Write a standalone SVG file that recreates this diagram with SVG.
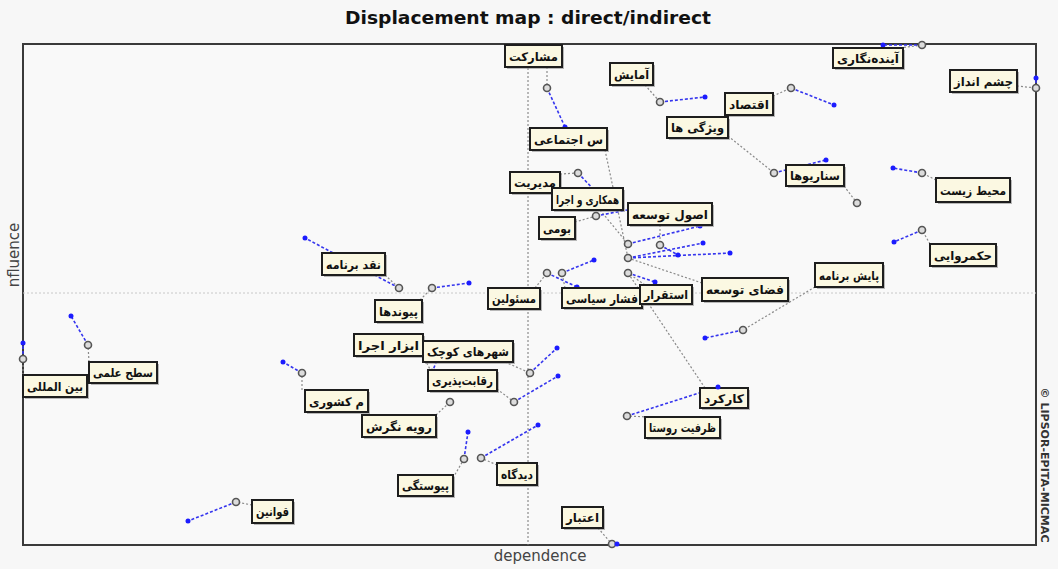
<svg xmlns="http://www.w3.org/2000/svg" width="1058" height="569" viewBox="0 0 1058 569">
<style>
.bg{fill:#f7f7f7}
.frame{fill:#f9f9f9;stroke:#3a3a3a;stroke-width:2}
.axv{stroke:#777;stroke-width:1;stroke-dasharray:2 2}
.axh{stroke:#c8c8c8;stroke-width:1;stroke-dasharray:2 2}
.title{font-family:"DejaVu Sans","Liberation Sans",sans-serif;font-weight:bold;font-size:17px;fill:#111;text-anchor:middle}
.axl{font-family:"DejaVu Sans","Liberation Sans",sans-serif;font-size:15px;fill:#444;text-anchor:middle}
.copy{font-family:"DejaVu Sans","Liberation Sans",sans-serif;font-weight:bold;font-size:10px;fill:#333;text-anchor:middle}
.lead{stroke:#8a8a8a;stroke-width:1.2;stroke-dasharray:2 2;fill:none}
.ind{stroke:#3535ee;stroke-width:1.6;stroke-dasharray:3 2;fill:none}
.pt{fill:#dcdcdc;stroke:#555;stroke-width:1.6}
.bd{fill:#1c1cff}
.sh{fill:#8c8c8c;opacity:0.6}
.box{fill:#fbf8e2;stroke:#1e1e1e;stroke-width:2}
.lbl{font-family:"DejaVu Sans",sans-serif;font-weight:bold;font-size:12px;fill:#111;text-anchor:middle}
</style>
<rect class="bg" x="0" y="0" width="1058" height="569"/>
<text class="title" x="528" y="24" textLength="366" lengthAdjust="spacingAndGlyphs">Displacement map :  direct/indirect</text>
<rect class="frame" x="23" y="44" width="1013" height="501"/>
<line class="axv" x1="528" y1="44" x2="528" y2="545"/>
<line class="axh" x1="23" y1="293" x2="1036" y2="293"/>
<text class="axl" x="540" y="561">dependence</text>
<text class="axl" transform="translate(19,255) rotate(-90)">nfluence</text>
<text class="copy" transform="translate(1041,465) rotate(90)" textLength="155" lengthAdjust="spacingAndGlyphs">© LIPSOR-EPITA-MICMAC</text>

<g id="connectors">
<line class="lead" x1="547" y1="67" x2="547" y2="88"/><line class="ind" x1="547" y1="88" x2="565" y2="127"/>
<line class="lead" x1="645" y1="85" x2="660" y2="102"/><line class="ind" x1="660" y1="102" x2="705" y2="97"/>
<line class="lead" x1="900" y1="48" x2="922" y2="45"/><line class="ind" x1="922" y1="45" x2="883" y2="45"/>
<line class="lead" x1="1017" y1="86" x2="1036" y2="88"/><line class="ind" x1="1036" y1="88" x2="1036" y2="78"/>
<line class="lead" x1="773" y1="96" x2="791" y2="88"/><line class="ind" x1="791" y1="88" x2="834" y2="105"/>
<line class="lead" x1="728" y1="136" x2="774" y2="173"/><line class="ind" x1="774" y1="173" x2="826" y2="160"/>
<line class="lead" x1="605" y1="150" x2="628" y2="258"/><line class="ind" x1="628" y1="258" x2="703" y2="243"/>
<line class="lead" x1="844" y1="186" x2="857" y2="203"/>
<line class="lead" x1="936" y1="180" x2="922" y2="173"/><line class="ind" x1="922" y1="173" x2="893" y2="168"/>
<line class="lead" x1="930" y1="244" x2="922" y2="230"/><line class="ind" x1="922" y1="230" x2="894" y2="242"/>
<line class="lead" x1="560" y1="174" x2="578" y2="173"/><line class="ind" x1="578" y1="173" x2="596" y2="192"/>
<line class="lead" x1="600" y1="210" x2="628" y2="244"/><line class="ind" x1="628" y1="244" x2="700" y2="226"/>
<line class="lead" x1="660" y1="225" x2="660" y2="245"/><line class="ind" x1="660" y1="245" x2="678" y2="255"/>
<line class="lead" x1="575" y1="222" x2="596" y2="216"/><line class="ind" x1="596" y1="216" x2="627" y2="210"/>
<line class="lead" x1="385" y1="275" x2="399" y2="288"/><line class="ind" x1="399" y1="288" x2="305" y2="238"/>
<line class="lead" x1="420" y1="300" x2="432" y2="288"/><line class="ind" x1="432" y1="288" x2="469" y2="283"/>
<line class="lead" x1="535" y1="288" x2="547" y2="273"/><line class="ind" x1="547" y1="273" x2="577" y2="287"/>
<line class="lead" x1="565" y1="288" x2="562" y2="273"/><line class="ind" x1="562" y1="273" x2="594" y2="260"/>
<line class="lead" x1="645" y1="285" x2="628" y2="273"/><line class="ind" x1="628" y1="273" x2="655" y2="282"/>
<line class="lead" x1="702" y1="283" x2="628" y2="258"/><line class="ind" x1="628" y1="258" x2="730" y2="253"/>
<line class="lead" x1="815" y1="287" x2="743" y2="330"/><line class="ind" x1="743" y1="330" x2="705" y2="338"/>
<line class="lead" x1="423" y1="356" x2="432" y2="373"/><line class="ind" x1="432" y1="373" x2="440" y2="352"/>
<line class="lead" x1="505" y1="362" x2="530" y2="373"/><line class="ind" x1="530" y1="373" x2="557" y2="348"/>
<line class="lead" x1="497" y1="389" x2="514" y2="402"/><line class="ind" x1="514" y1="402" x2="558" y2="376"/>
<line class="lead" x1="302" y1="390" x2="302" y2="373"/><line class="ind" x1="302" y1="373" x2="283" y2="362"/>
<line class="lead" x1="436" y1="415" x2="450" y2="402"/>
<line class="lead" x1="23" y1="375" x2="23" y2="359"/><line class="ind" x1="23" y1="359" x2="23" y2="343"/>
<line class="lead" x1="89" y1="362" x2="88" y2="345"/><line class="ind" x1="88" y1="345" x2="71" y2="316"/>
<line class="lead" x1="453" y1="478" x2="464" y2="459"/><line class="ind" x1="464" y1="459" x2="468" y2="432"/>
<line class="lead" x1="497" y1="465" x2="481" y2="458"/><line class="ind" x1="481" y1="458" x2="538" y2="425"/>
<line class="lead" x1="705" y1="388" x2="628" y2="273"/>
<line class="lead" x1="648" y1="417" x2="627" y2="416"/><line class="ind" x1="627" y1="416" x2="718" y2="387"/>
<line class="lead" x1="598" y1="528" x2="612" y2="544"/><line class="ind" x1="612" y1="544" x2="617" y2="544"/>
<line class="lead" x1="252" y1="505" x2="236" y2="502"/><line class="ind" x1="236" y1="502" x2="188" y2="521"/>
</g>

<g id="n1"><circle class="pt" cx="547" cy="88" r="3.5"/><circle class="bd" cx="565" cy="127" r="2.5"/><rect class="sh" x="507" y="47" width="57" height="22"/><rect class="box" x="505" y="45" width="57" height="22"/><text class="lbl" x="533.5" y="60.5" textLength="49" lengthAdjust="spacingAndGlyphs">مشارکت</text></g>
<g id="n2"><circle class="pt" cx="660" cy="102" r="3.5"/><circle class="bd" cx="705" cy="97" r="2.5"/><rect class="sh" x="612" y="65" width="43" height="22"/><rect class="box" x="610" y="63" width="43" height="22"/><text class="lbl" x="631.5" y="78.5" textLength="35" lengthAdjust="spacingAndGlyphs">آمایش</text></g>
<g id="n3"><circle class="pt" cx="922" cy="45" r="3.5"/><circle class="bd" cx="883" cy="45" r="2.5"/><rect class="sh" x="835" y="50" width="70" height="20"/><rect class="box" x="833" y="48" width="70" height="20"/><text class="lbl" x="868" y="62.5" textLength="62" lengthAdjust="spacingAndGlyphs">آینده‌نگاری</text></g>
<g id="n4"><circle class="pt" cx="1036" cy="88" r="3.5"/><circle class="bd" cx="1036" cy="78" r="2.5"/><rect class="sh" x="952" y="72" width="67" height="22"/><rect class="box" x="950" y="70" width="67" height="22"/><text class="lbl" x="983.5" y="85.5" textLength="59" lengthAdjust="spacingAndGlyphs">چشم انداز</text></g>
<g id="n5"><circle class="pt" cx="791" cy="88" r="3.5"/><circle class="bd" cx="834" cy="105" r="2.5"/><rect class="sh" x="727" y="95" width="48" height="22"/><rect class="box" x="725" y="93" width="48" height="22"/><text class="lbl" x="749" y="108.5" textLength="40" lengthAdjust="spacingAndGlyphs">اقتصاد</text></g>
<g id="n6"><circle class="pt" cx="774" cy="173" r="3.5"/><circle class="bd" cx="826" cy="160" r="2.5"/><rect class="sh" x="669" y="119" width="61" height="21"/><rect class="box" x="667" y="117" width="61" height="21"/><text class="lbl" x="697.5" y="132" textLength="53" lengthAdjust="spacingAndGlyphs">ویژگی ها</text></g>
<g id="n7"><circle class="pt" cx="628" cy="258" r="3.5"/><circle class="bd" cx="703" cy="243" r="2.5"/><rect class="sh" x="532" y="130" width="77" height="22"/><rect class="box" x="530" y="128" width="77" height="22"/><text class="lbl" x="568.5" y="143.5" textLength="69" lengthAdjust="spacingAndGlyphs">س اجتماعی</text></g>
<g id="n8"><circle class="pt" cx="857" cy="203" r="3.5"/><rect class="sh" x="788" y="167" width="58" height="21"/><rect class="box" x="786" y="165" width="58" height="21"/><text class="lbl" x="815" y="180" textLength="50" lengthAdjust="spacingAndGlyphs">سناریوها</text></g>
<g id="n9"><circle class="pt" cx="922" cy="173" r="3.5"/><circle class="bd" cx="893" cy="168" r="2.5"/><rect class="sh" x="938" y="180" width="74" height="24"/><rect class="box" x="936" y="178" width="74" height="24"/><text class="lbl" x="973" y="194.5" textLength="66" lengthAdjust="spacingAndGlyphs">محیط زیست</text></g>
<g id="n10"><circle class="pt" cx="922" cy="230" r="3.5"/><circle class="bd" cx="894" cy="242" r="2.5"/><rect class="sh" x="932" y="246" width="66" height="22"/><rect class="box" x="930" y="244" width="66" height="22"/><text class="lbl" x="963" y="259.5" textLength="58" lengthAdjust="spacingAndGlyphs">حکمروایی</text></g>
<g id="n11"><circle class="pt" cx="578" cy="173" r="3.5"/><rect class="sh" x="512" y="174" width="50" height="21"/><rect class="box" x="510" y="172" width="50" height="21"/><text class="lbl" x="535" y="187" textLength="42" lengthAdjust="spacingAndGlyphs">مدیریت</text></g>
<g id="n12"><circle class="pt" cx="628" cy="244" r="3.5"/><circle class="bd" cx="700" cy="226" r="2.5"/><rect class="sh" x="554" y="190" width="71" height="22"/><rect class="box" x="552" y="188" width="71" height="22"/><text class="lbl" x="587.5" y="203.5" textLength="63" lengthAdjust="spacingAndGlyphs">همکاری و اجرا</text></g>
<g id="n13"><circle class="pt" cx="660" cy="245" r="3.5"/><circle class="bd" cx="678" cy="255" r="2.5"/><rect class="sh" x="630" y="205" width="84" height="22"/><rect class="box" x="628" y="203" width="84" height="22"/><text class="lbl" x="670" y="218.5" textLength="76" lengthAdjust="spacingAndGlyphs">اصول توسعه</text></g>
<g id="n14"><circle class="pt" cx="596" cy="216" r="3.5"/><rect class="sh" x="541" y="219" width="36" height="22"/><rect class="box" x="539" y="217" width="36" height="22"/><text class="lbl" x="557" y="232.5" textLength="28" lengthAdjust="spacingAndGlyphs">بومی</text></g>
<g id="n15"><circle class="pt" cx="399" cy="288" r="3.5"/><circle class="bd" cx="305" cy="238" r="2.5"/><rect class="sh" x="324" y="255" width="63" height="22"/><rect class="box" x="322" y="253" width="63" height="22"/><text class="lbl" x="353.5" y="268.5" textLength="55" lengthAdjust="spacingAndGlyphs">نقد برنامه</text></g>
<g id="n16"><circle class="pt" cx="432" cy="288" r="3.5"/><circle class="bd" cx="469" cy="283" r="2.5"/><rect class="sh" x="377" y="302" width="47" height="22"/><rect class="box" x="375" y="300" width="47" height="22"/><text class="lbl" x="398.5" y="315.5" textLength="39" lengthAdjust="spacingAndGlyphs">پیوندها</text></g>
<g id="n17"><circle class="pt" cx="547" cy="273" r="3.5"/><circle class="bd" cx="577" cy="287" r="2.5"/><rect class="sh" x="490" y="290" width="52" height="21"/><rect class="box" x="488" y="288" width="52" height="21"/><text class="lbl" x="514" y="303" textLength="44" lengthAdjust="spacingAndGlyphs">مسئولین</text></g>
<g id="n18"><circle class="pt" cx="562" cy="273" r="3.5"/><circle class="bd" cx="594" cy="260" r="2.5"/><rect class="sh" x="564" y="290" width="80" height="20"/><rect class="box" x="562" y="288" width="80" height="20"/><text class="lbl" x="602" y="302.5" textLength="72" lengthAdjust="spacingAndGlyphs">فشار سیاسی</text></g>
<g id="n19"><circle class="pt" cx="628" cy="273" r="3.5"/><circle class="bd" cx="655" cy="282" r="2.5"/><rect class="sh" x="642" y="287" width="52" height="19"/><rect class="box" x="640" y="285" width="52" height="19"/><text class="lbl" x="666" y="299" textLength="44" lengthAdjust="spacingAndGlyphs">استقرار</text></g>
<g id="n20"><circle class="bd" cx="730" cy="253" r="2.5"/><rect class="sh" x="704" y="280" width="86" height="23"/><rect class="box" x="702" y="278" width="86" height="23"/><text class="lbl" x="745" y="294" textLength="78" lengthAdjust="spacingAndGlyphs">فضای توسعه</text></g>
<g id="n21"><circle class="pt" cx="743" cy="330" r="3.5"/><circle class="bd" cx="705" cy="338" r="2.5"/><rect class="sh" x="817" y="265" width="68" height="24"/><rect class="box" x="815" y="263" width="68" height="24"/><text class="lbl" x="849" y="279.5" textLength="60" lengthAdjust="spacingAndGlyphs">پایش برنامه</text></g>
<g id="n22"><circle class="pt" cx="432" cy="373" r="3.5"/><rect class="sh" x="356" y="336" width="69" height="22"/><rect class="box" x="354" y="334" width="69" height="22"/><text class="lbl" x="388.5" y="349.5" textLength="61" lengthAdjust="spacingAndGlyphs">ابزار اجرا</text></g>
<g id="n23"><circle class="pt" cx="530" cy="373" r="3.5"/><circle class="bd" cx="557" cy="348" r="2.5"/><rect class="sh" x="425" y="343" width="90" height="21"/><rect class="box" x="423" y="341" width="90" height="21"/><text class="lbl" x="468" y="356" textLength="82" lengthAdjust="spacingAndGlyphs">شهرهای کوچک</text></g>
<g id="n24"><circle class="pt" cx="514" cy="402" r="3.5"/><circle class="bd" cx="558" cy="376" r="2.5"/><rect class="sh" x="430" y="372" width="69" height="21"/><rect class="box" x="428" y="370" width="69" height="21"/><text class="lbl" x="462.5" y="385" textLength="61" lengthAdjust="spacingAndGlyphs">رقابت‌پذیری</text></g>
<g id="n25"><circle class="pt" cx="302" cy="373" r="3.5"/><circle class="bd" cx="283" cy="362" r="2.5"/><rect class="sh" x="307" y="392" width="63" height="22"/><rect class="box" x="305" y="390" width="63" height="22"/><text class="lbl" x="336.5" y="405.5" textLength="55" lengthAdjust="spacingAndGlyphs">م کشوری</text></g>
<g id="n26"><circle class="pt" cx="450" cy="402" r="3.5"/><rect class="sh" x="364" y="417" width="74" height="22"/><rect class="box" x="362" y="415" width="74" height="22"/><text class="lbl" x="399" y="430.5" textLength="66" lengthAdjust="spacingAndGlyphs">رویه نگرش</text></g>
<g id="n27"><circle class="pt" cx="23" cy="359" r="3.5"/><circle class="bd" cx="23" cy="343" r="2.5"/><rect class="sh" x="25" y="377" width="64" height="22"/><rect class="box" x="23" y="375" width="64" height="22"/><text class="lbl" x="55" y="390.5" textLength="56" lengthAdjust="spacingAndGlyphs">بین المللی</text></g>
<g id="n28"><circle class="pt" cx="88" cy="345" r="3.5"/><circle class="bd" cx="71" cy="316" r="2.5"/><rect class="sh" x="91" y="364" width="68" height="21"/><rect class="box" x="89" y="362" width="68" height="21"/><text class="lbl" x="123" y="377" textLength="60" lengthAdjust="spacingAndGlyphs">سطح علمی</text></g>
<g id="n29"><circle class="pt" cx="464" cy="459" r="3.5"/><circle class="bd" cx="468" cy="432" r="2.5"/><rect class="sh" x="400" y="477" width="55" height="21"/><rect class="box" x="398" y="475" width="55" height="21"/><text class="lbl" x="425.5" y="490" textLength="47" lengthAdjust="spacingAndGlyphs">پیوستگی</text></g>
<g id="n30"><circle class="pt" cx="481" cy="458" r="3.5"/><circle class="bd" cx="538" cy="425" r="2.5"/><rect class="sh" x="499" y="465" width="40" height="22"/><rect class="box" x="497" y="463" width="40" height="22"/><text class="lbl" x="517" y="478.5" textLength="32" lengthAdjust="spacingAndGlyphs">دیدگاه</text></g>
<g id="n31"><rect class="sh" x="702" y="390" width="48" height="20"/><rect class="box" x="700" y="388" width="48" height="20"/><text class="lbl" x="724" y="402.5" textLength="40" lengthAdjust="spacingAndGlyphs">کارکرد</text></g>
<g id="n32"><circle class="pt" cx="627" cy="416" r="3.5"/><circle class="bd" cx="718" cy="387" r="2.5"/><rect class="sh" x="647" y="419" width="75" height="21"/><rect class="box" x="645" y="417" width="75" height="21"/><text class="lbl" x="682.5" y="432" textLength="67" lengthAdjust="spacingAndGlyphs">ظرفیت روستا</text></g>
<g id="n33"><circle class="pt" cx="612" cy="544" r="3.5"/><circle class="bd" cx="617" cy="544" r="2.5"/><rect class="sh" x="564" y="509" width="41" height="21"/><rect class="box" x="562" y="507" width="41" height="21"/><text class="lbl" x="582.5" y="522" textLength="33" lengthAdjust="spacingAndGlyphs">اعتبار</text></g>
<g id="n34"><circle class="pt" cx="236" cy="502" r="3.5"/><circle class="bd" cx="188" cy="521" r="2.5"/><rect class="sh" x="254" y="502" width="41" height="23"/><rect class="box" x="252" y="500" width="41" height="23"/><text class="lbl" x="272.5" y="516" textLength="33" lengthAdjust="spacingAndGlyphs">قوانین</text></g>
</svg>
